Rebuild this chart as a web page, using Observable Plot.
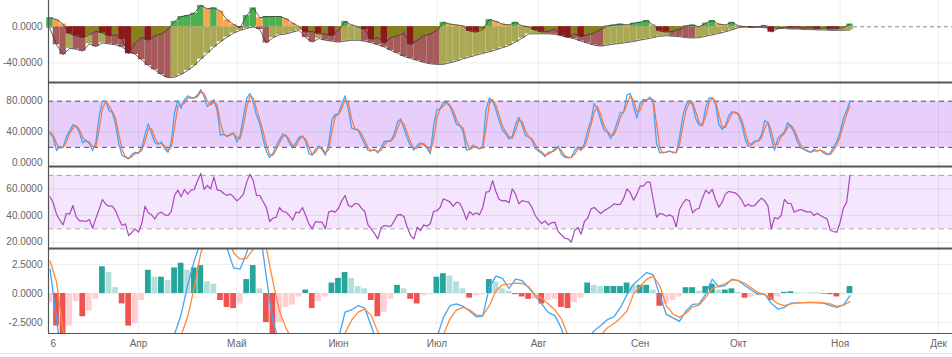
<!DOCTYPE html>
<html><head><meta charset="utf-8">
<script src="https://cdn.jsdelivr.net/npm/d3@7"></script>
<script src="https://cdn.jsdelivr.net/npm/@observablehq/plot@0.6"></script>
<style>
html,body{margin:0;padding:0;background:#fff;overflow:hidden}
#chart{width:952px;height:357px;position:relative;overflow:hidden;background:#fff}
#chart svg{display:block;overflow:visible;position:relative}
#chart::after{content:"";position:absolute;left:0;right:0;top:353px;height:1px;background:#e6e6e6}
</style></head><body><div id="chart"></div>
<script>
// ---- data ----
const startDay = "2021-03-05";
const dailyStep = 1;   // RSI and Stoch RSI: one value per day
const coarseStep = 2;  // momentum and MACD panels: one value every 2 days
const xTickDates = ["2021-03-06","2021-04-01","2021-05-01","2021-06-01","2021-07-01","2021-08-01","2021-09-01","2021-10-01","2021-11-01","2021-12-01"];
const xTickLabels = ["6","Апр","Май","Июн","Июл","Авг","Сен","Окт","Ноя","Дек"];

const momSlow = [-2,-20,-31,-24,-25,-27,-19,-22,-18,-19,
 -20,-22.5,-27,-30.7,-36.7,-43,-47.8,-53,-56.5,-56,
 -53,-48.5,-43.3,-36,-29.3,-22.6,-16.7,-11.5,-7,-4,
 -1.9,0,-3,-18,-12,-9,-8,-6,-4,-12,
 -17,-13,-15,-16,-17,-16,-15,-15,-16,-17.8,
 -20,-22.6,-26.3,-29.3,-33,-35.2,-37.4,-39.6,-41.1,-41.8,
 -41.8,-40,-38.1,-35.5,-33.7,-31.5,-29.6,-27.8,-25.6,-23.3,
 -20.8,-17,-12.6,-8,-7.8,-7.8,-7.9,-8.3,-9.7,-11.5,
 -13.4,-16,-18.2,-20.4,-21.5,-20.4,-19.3,-18.5,-17.4,-16.3,
 -14.8,-13.5,-12,-10.5,-10,-10.5,-11,-12,-12.5,-12,
 -10.5,-9,-7.5,-5.5,-3.5,-1,0,0,-0.5,-1,
 -1.5,-2,-2,-2.5,-2.5,-3,-3,-3.5,-3.5,-4,
 -4,-4,-3.5];
const momFast = [10,8,3,-8,-10,-12,-9,-5,-7,-10,
 -9,-14,-30,-18,-12,-15,-10,-8,-3,6,
 11.4,12.6,15.1,23.7,20,21,17.4,7.7,2.6,-1,
 12.6,21,10,11.4,11.4,11.4,8.9,4,0.3,-6,
 -5,-8,-8,-10,-4,6,2,0,-3,-14,
 -12,-18,-12,-10,-7,-20,-15,-10,-8,-4,
 5,3,2,1,-5,-6,-3,8,6,3,
 2,5,1,0,-4,-6,-5,-3,-10,-12,
 -8,-11,-9,-7,-3,1,2,3,2,4,
 5,7,2,-5,-6,-5,-3,1,2,0,
 4,7,3,2,5,1,0,-1,0,1.5,
 -6,-2,-0.5,-1,-1.5,-1,-1.5,-2,-1.5,-2,
 -2.5,-1,3];
const stochK = [38,33,16,21,20,34,41.5,49.5,47.5,39,
 26,29.3,25,16,26.5,61,80,80,68,65.5,
 50,24.6,9.5,7.3,5.2,11,13.5,12.5,20,37,
 50.5,38,26,24,27,18,13.8,27,65,81,
 71,82,87,84,84.5,88,95,86,73,77,
 82,68,36,37,34,37,39,27,36,60,
 84,90,79,61,51,31,15,7,12,22,
 30,37.5,35,26,19,26,33.5,35,28,12,
 10,18,22,17,10,25,56,63,63.6,76,
 87,70,45,43.5,42.5,33,24.5,16,15.5,17.5,
 13,20,28,28,29,37.5,53,57,44,31.5,
 22,16.4,22.5,26,23.5,19,12,48,69,70,
 78.5,78,73,62.5,50,48.4,41,16.5,18,23,
 20,18,21,69,84,81,69,54.5,42.5,37.5,
 31,34,50,59.3,49,35.5,33.5,29.5,19,15,
 12.4,8,13.8,14,18,21.5,11,7.3,6.5,7,
 16,20.5,16,25,42,55,77,69,55,42,
 40,31.5,39.8,52.8,65.5,65.8,88,90,73,58,
 77,82.5,81,85.5,78,25,13,13.5,13.8,15.5,
 13,14,33,61,75,81,75,57,49,48.4,
 72,84,84.5,76,50,43.5,48.5,61,66.5,65.3,
 62,50,31,21,24.7,28.3,28.5,36,55,52,
 32,16.5,32,36,40,52,46.5,39,27,19.5,
 17.5,15,13.5,17.5,15,16.7,12.5,10.5,12.5,20.5,
 28,40,58,68,80];
const stochD = [40,36,25,19,20,27,38,45,48,43,
 33,28,27,21,21,43,70,80,74,67,
 58,37,17,8,6,8,12,13,16,28,
 44,44,32,25,25,22,16,20,46,73,
 76,77,84,85,84,86,92,90,80,75,
 79,75,52,37,35,36,38,33,31,48,
 72,87,84,70,56,41,23,11,10,17,
 26,34,36,30,22,22,30,34,31,20,
 11,14,20,19,13,17,40,60,63,70,
 82,78,57,44,43,38,29,20,16,16,
 15,16,24,28,28,33,45,55,50,38,
 27,19,19,24,25,21,15,30,58,70,
 74,78,75,68,56,49,45,28,17,20,
 21,19,19,45,77,82,75,62,48,40,
 34,32,42,55,54,42,34,31,24,17,
 14,10,11,14,16,20,16,9,7,7,
 11,18,18,20,33,49,66,73,62,48,
 41,36,36,46,59,66,76,87,81,66,
 68,80,82,83,82,51,19,13,14,15,
 14,13,23,47,68,78,78,66,53,49,
 60,78,84,80,63,47,46,55,64,66,
 64,56,40,26,23,27,28,32,45,53,
 42,24,24,34,38,46,49,43,33,23,
 18,16,14,15,16,16,15,12,11,16,
 24,34,49,63,74];
const rsi = [54,49.5,41,36.5,33,41.5,41,47.5,39,36,
 36,35.5,37,30.5,38,44.5,52,48.5,47,47,
 43.7,37.5,32.5,33.7,25,27.5,30,27.5,34,47,
 42,40.5,37.5,41.5,42.5,40.5,40,43,55,59,
 54,59.5,56,59,59.5,66,71.5,59.5,62.5,60,
 69,59.2,58.7,56.5,55,56,54,51,53,56,
 65,71,66,55,55,50.5,46,35.5,38,38.7,
 46,43,42.5,40,36.5,42.5,42,46,40,33.5,
 30,35.5,35,35,30,42.5,43.5,42.5,45.5,51,
 55,47.5,46.5,49,48.7,45.5,43,33,30,26.5,
 22.5,31,32.5,32,32,36,40.5,40.7,39,31,
 25,22.5,31.2,28.7,33,32,34,43,43.6,46,
 52.5,51.4,50.2,46.8,50,49.2,44,37,43,40.5,
 42,40.5,46,57.5,58,66,58,52,51,51.2,
 49.5,60,56,48.7,51.2,50.5,50,46,40,36.5,
 34,36,33,34.5,35,28,25.5,23,22.5,20,
 28.5,31,26,35.5,38,45,46,43.7,41.5,43.5,
 45,46.5,48.7,48.2,48.5,53,60,57,51.5,56,
 62,62,65,65,52,38.7,41.5,41,39.5,40.5,
 39,31.5,44.5,49,52,51.2,42,44.5,45.5,53,
 59,56.5,59.5,52,46.2,50,56,58,57.5,57,
 55,51.5,46.8,48.5,47,47.5,50.5,53,51,47,
 30,38.5,37.5,40,52,49,49,42.5,43.7,44.5,
 43.5,42.5,43,40,41.7,40,38.7,37.5,29,28,
 27.5,35,45.5,50,70];
const macd = [2.1,-2.2,-6.5,-7.8,-8.4,-9.5,-9.3,-8.6,-5.8,-5.2,
 -5.5,-7.2,-9.5,-10,-8.2,-6.2,-6,-5.4,-4.9,-3.5,
 -1.8,0.7,2.8,4.5,6,6.5,6,3.9,2.2,2.1,
 3.5,5.5,5.5,1.4,-2.4,-4.2,-4.2,-5,-5,-4.5,
 -5.5,-5.5,-5.3,-4.6,-3.9,-1.6,-1.4,-1.05,-1.25,-2.8,
 -4.5,-5.5,-5.5,-5,-5,-5.6,-6,-5.8,-5.6,-3.8,
 -2.05,-1.05,-0.9,-1.1,-1.5,-2,-1.95,0.5,1.5,1.3,
 0.43,1.23,1.1,0.5,-0.2,-0.9,-1.62,-1.9,-3,-4.9,
 -5.5,-5,-3.9,-3.2,-2.76,-2.25,-2,-1.2,-0.1,0.8,
 1.3,1.8,1.6,-0.2,-1.8,-2.1,-2.4,-1.5,-0.94,-0.9,
 -0.05,1.23,0.57,0.7,1.23,1.1,0.66,0.28,-0.05,-0.05,
 -0.85,-1.34,-1.2,-0.82,-0.8,-0.78,-0.77,-0.8,-0.82,-1.05,
 -1.2,-0.97,-0.2];
const macdSignal = [2.8,1,-3.2,-5,-7.7,-7.5,-7.8,-8.1,-8.1,-7,
 -6,-6.3,-6.7,-7.4,-7.6,-8.2,-7.4,-6.8,-6,-5.2,
 -3.6,-2,0.5,3.5,5,5.8,6.2,5.2,3.5,2.95,
 3.05,3.8,4.8,3.9,1,-1.5,-3,-4,-4.7,-4.8,
 -4.4,-4.8,-5,-5.5,-5.2,-3.4,-2.3,-1.6,-1.34,-1.9,
 -3.3,-4,-5,-5.7,-5.4,-5.1,-5.1,-5.6,-5.5,-5.2,
 -3.5,-2.2,-1.4,-1.2,-1.4,-1.85,-1.9,-1.05,0.23,0.75,
 0.8,0.9,0.86,0.6,-0.14,-0.4,-0.9,-1.4,-2.2,-3.6,
 -4.7,-4.6,-4.8,-3.9,-3.6,-2.95,-2.6,-2.1,-1.5,-0.05,
 0.6,1.23,1.5,0.66,-1.05,-1.76,-2.05,-1.7,-1.15,-1,
 -0.34,0.43,0.63,0.86,1.17,1.1,0.86,0.46,0.09,-0.11,
 -0.42,-0.88,-1.05,-0.9,-0.8,-0.78,-0.77,-0.77,-0.8,-0.9,
 -1.1,-1,-0.7];
const macdHist = [-0.8,-2.8,-3.6,-2.8,-0.7,-2,-1.5,-0.5,2.3,1.8,
 0.5,-0.9,-2.8,-2.6,-0.6,2,1.4,1.4,1.1,2.2,
 2.6,2,2.2,2.4,1,0.8,-0.6,-1.2,-1.3,-0.9,
 1.2,2.4,0.4,-2.5,-3.5,-2.5,-1.2,-1,-0.3,0.3,
 -1.3,-0.7,-0.3,0.9,1.3,1.8,1.3,0.6,0.4,-0.6,
 -2,-1.6,-0.5,0.7,0.4,-0.5,-0.9,-0.2,-0.1,1.4,
 1.7,1.5,1,0.4,-0.4,-0.2,-0.1,1.2,1,0.4,
 0.2,-0.1,-0.3,-0.5,-0.5,-0.9,-0.6,-0.5,-1.2,-1.3,
 -0.8,-0.4,0.9,0.7,0.6,0.6,0.6,0.6,0.9,0.7,
 0.7,0.7,0.3,-1.1,-0.9,-0.6,-0.3,0.5,0.5,0.2,
 0.6,0.8,0.3,0.3,0.4,0.1,-0.4,-0.3,-0.2,0,
 -0.6,-0.3,0.1,0.15,0.05,0.02,0.02,0.02,-0.05,-0.1,
 -0.3,-0.1,0.6];

// ---- build tables ----
const DAY = 864e5;
const t0 = +new Date(startDay);
const rows = macd.map((_, i) => {
  const date = new Date(t0 + i * coarseStep * DAY);
  const s = momSlow[i], f = momFast[i], h = macdHist[i];
  const ps = i ? momSlow[i-1] : s, pf = i ? momFast[i-1] : f, ph = i ? macdHist[i-1] : h;
  return {
    date, x1: new Date(+date - coarseStep * DAY / 2), x2: new Date(+date + coarseStep * DAY / 2),
    s, f, macd: macd[i], sig: macdSignal[i], h,
    sc: s < ps ? "#a65a5a" : "#aba853",
    fc: f >= 0 ? (f >= pf ? "#4caf50" : "#f7a64e") : (f < pf ? "#8c1a1a" : "#86801d"),
    hc: h >= 0 ? (h >= ph ? "#26a69a" : "#b2dfdb") : (h < ph ? "#ef5350" : "#ffcdd2")
  };
});
const daily = rsi.map((v, i) => ({date: new Date(t0 + i * dailyStep * DAY), rsi: v, k: stochK[i], d: stochD[i]}));
const xTicks = xTickDates.map(d => new Date(d));
const labelOf = new Map(xTicks.map((d, i) => [+d, xTickLabels[i]]));
const xDomain = [new Date(Date.UTC(2021,2,4,13,12)), new Date(Date.UTC(2021,11,5,6,29))];
const fmt = d => d.toFixed(4);

const base = {
  width: 952, marginLeft: 48, marginRight: 0, marginTop: 0, marginBottom: 0,
  style: {fontFamily: "'Liberation Sans', Arial, sans-serif", fontSize: "10px", color: "#666", background: "transparent", overflow: "visible"},
  color: {type: "identity"}
};
const gridX = Plot.ruleX(xTicks, {stroke: "#000", strokeOpacity: 0.07});
const leftLine = Plot.ruleX([xDomain[0]], {stroke: "#555", strokeWidth: 1.2});
const yAxis = (domain, ticks) => ({domain, ticks, tickFormat: fmt, tickSize: 0, tickPadding: 6, label: null});
const xNone = {type: "utc", domain: xDomain, axis: null};

// Panel 1: momentum
const p1Dom = [-61.9, 29.2];
const p1 = Plot.plot({...base, height: 82,
  x: xNone, y: yAxis(p1Dom, [0, -40]),
  marks: [
    gridX,
    Plot.ruleY([-40], {stroke: "#000", strokeOpacity: 0.07}),
    Plot.ruleY([0], {stroke: "#888", strokeDasharray: "4,3"}),
    Plot.rect(rows, {x1: "x1", x2: "x2", y1: 0, y2: "s", fill: "sc"}),
    Plot.line(rows, {x: "date", y: "s", stroke: "#3a3a3a", strokeWidth: 0.8}),
    Plot.rect(rows, {x1: "x1", x2: "x2", y1: 0, y2: "f", fill: "fc"}),
    Plot.line(rows, {x: "date", y: "f", stroke: "#3a3a3a", strokeWidth: 0.8}),
    leftLine
  ]});

// Panel 2: Stoch RSI
const p2Dom = [-4.8, 104.3];
const p2 = Plot.plot({...base, height: 84,
  x: xNone, y: yAxis(p2Dom, [0, 40, 80]),
  marks: [
    Plot.rect([0], {x1: xDomain[0], x2: xDomain[1], y1: 20, y2: 80, fill: "#e7cefb"}),
    gridX,
    Plot.ruleY([0, 40], {stroke: "#000", strokeOpacity: 0.07}),
    Plot.ruleY([20, 80], {stroke: "#555", strokeDasharray: "5,4"}),
    Plot.line(daily, {x: "date", y: "k", stroke: "#42a5f5", strokeWidth: 1.3}),
    Plot.line(daily, {x: "date", y: "d", stroke: "#f4763c", strokeWidth: 1.2}),
    Plot.ruleY([p2Dom[1]], {stroke: "#555", strokeWidth: 2}),
    leftLine
  ]});

// Panel 3: RSI
const p3Dom = [15.3, 76.7];
const p3 = Plot.plot({...base, height: 82,
  x: xNone, y: yAxis(p3Dom, [20, 40, 60]),
  marks: [
    Plot.rect([0], {x1: xDomain[0], x2: xDomain[1], y1: 30, y2: 70, fill: "#f4e6fd"}),
    gridX,
    Plot.ruleY([20, 40, 60], {stroke: "#000", strokeOpacity: 0.07}),
    Plot.ruleY([30, 70], {stroke: "#aaa", strokeDasharray: "5,4"}),
    Plot.line(daily, {x: "date", y: "rsi", stroke: "#ab47bc", strokeWidth: 1.2}),
    Plot.ruleY([p3Dom[1]], {stroke: "#555", strokeWidth: 2}),
    leftLine
  ]});

// Panel 4: MACD
const p4Dom = [-3.44, 3.87];
const p4 = Plot.plot({...base, height: 109, marginBottom: 24,
  x: {type: "utc", domain: xDomain, ticks: xTicks, tickFormat: d => labelOf.get(+d) ?? "", tickSize: 0, tickPadding: 6, label: null},
  y: yAxis(p4Dom, [-2.5, 0, 2.5]),
  marks: [
    gridX,
    Plot.ruleY([-2.5, 0, 2.5], {stroke: "#000", strokeOpacity: 0.07}),
    Plot.rect(rows, {x1: "x1", x2: "x2", y1: 0, y2: "h", fill: "hc", insetLeft: 0.4, insetRight: 0.4, clip: true}),
    Plot.line(rows, {x: "date", y: "macd", stroke: "#42a5f5", strokeWidth: 1.3, clip: true}),
    Plot.line(rows, {x: "date", y: "sig", stroke: "#ff8a3d", strokeWidth: 1.3, clip: true}),
    Plot.ruleY([p4Dom[1]], {stroke: "#555", strokeWidth: 2}),
    Plot.ruleY([p4Dom[0]], {stroke: "#555", strokeWidth: 1.2}),
    leftLine
  ]});

const chart = document.getElementById("chart");
[p1, p2, p3, p4].forEach(p => chart.appendChild(p));
</script></body></html>
